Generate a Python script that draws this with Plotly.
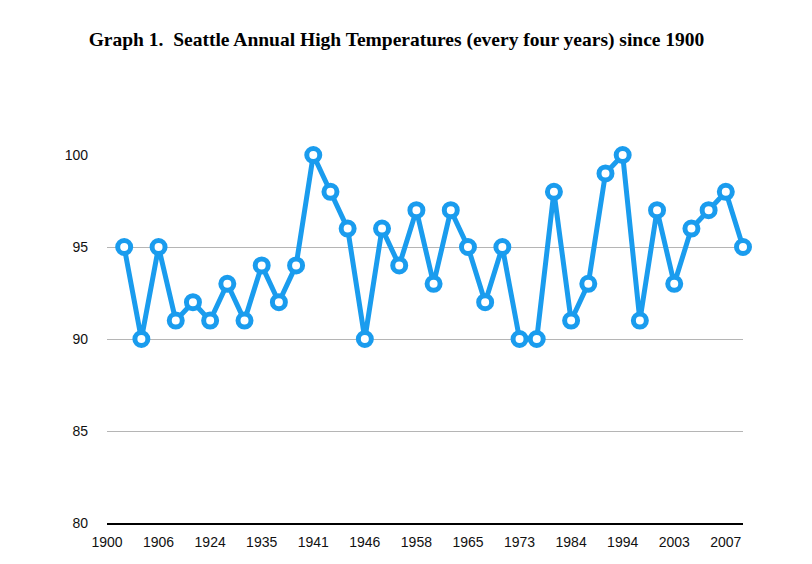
import plotly.graph_objects as go

# Sample order (every fourth year, 37 samples)
sample_index = list(range(1, 38))
high_temps = [95, 90, 95, 91, 92, 91, 93, 91, 94, 92, 94, 100, 98, 96, 90, 96, 94, 97, 93,
              97, 95, 92, 95, 90, 90, 98, 91, 93, 99, 100, 91, 97, 93, 96, 97, 98, 95]

tick_positions = list(range(0, 37, 3))
tick_labels = ["1900", "1906", "1924", "1935", "1941", "1946", "1958",
               "1965", "1973", "1984", "1994", "2003", "2007"]
y_ticks = [80, 85, 90, 95, 100]

blue = "#1a9cee"

fig = go.Figure()
fig.add_trace(go.Scatter(
    x=sample_index, y=high_temps, mode="lines+markers",
    line=dict(color=blue, width=5),
    marker=dict(size=13, color="white", line=dict(color=blue, width=5)),
    cliponaxis=False, showlegend=False, hoverinfo="y",
))

fig.update_layout(
    width=812, height=564,
    margin=dict(l=99, r=77, t=147, b=49),
    paper_bgcolor="white", plot_bgcolor="white",
    title=dict(
        text="Graph 1.  Seattle Annual High Temperatures (every four years) since 1900",
        x=0.4785, xanchor="center", y=0.945, yanchor="middle",
        font=dict(family="Liberation Serif", size=19.5, color="black", weight="bold"),
    ),
    font=dict(family="Liberation Sans", size=14, color="#111111"),
    xaxis=dict(
        range=[0, 37], tickmode="array", tickvals=tick_positions, ticktext=tick_labels,
        showgrid=False, zeroline=False, showline=True, linecolor="black", linewidth=2,
        ticks="", ticklabelstandoff=5,
    ),
    yaxis=dict(
        range=[80, 100], tickmode="array", tickvals=y_ticks,
        showgrid=True, gridcolor="#b5b5b5", gridwidth=1, zeroline=False,
        showline=False, ticks="", ticklabelstandoff=18,
    ),
)

fig.write_html("out.html")
